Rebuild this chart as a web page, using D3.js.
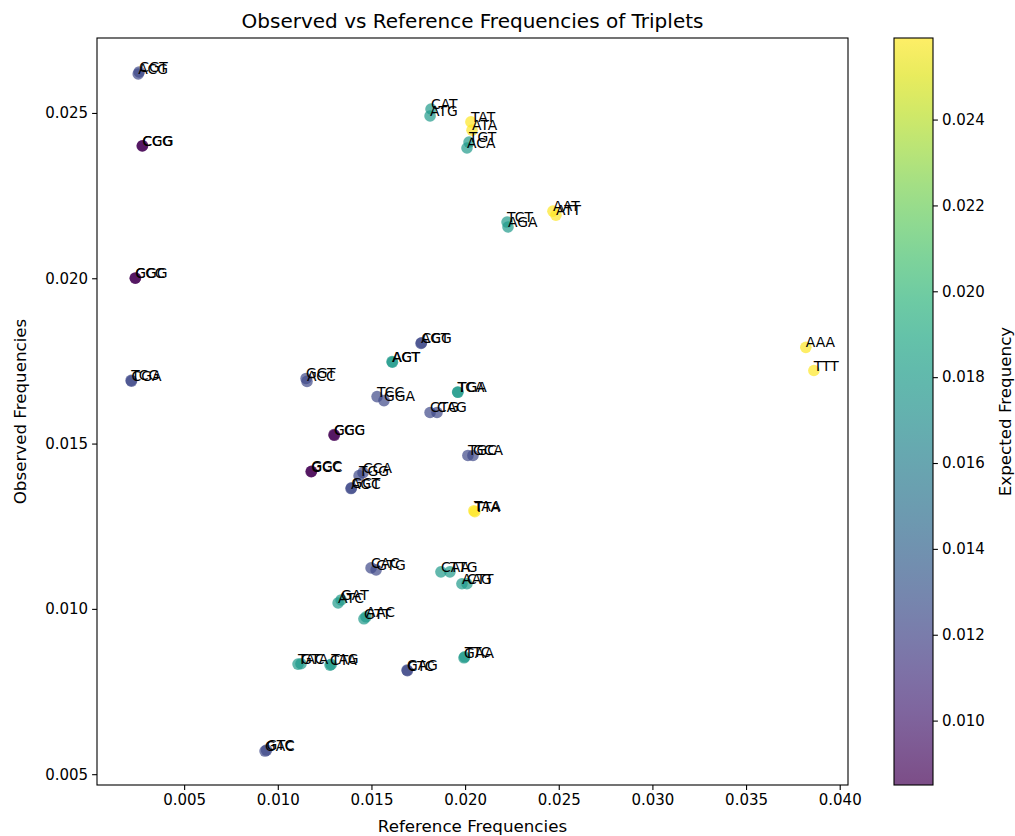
<!DOCTYPE html>
<html>
<head>
<meta charset="utf-8">
<script src="https://cdn.jsdelivr.net/npm/d3@7"></script>
<style>
  body { margin: 0; background: #fff; }
  text { font-family: "DejaVu Sans", sans-serif; }
</style>
</head>
<body>
<div class="canvas"></div>
<script>
/////////////////////////////////
//** DATA **//

const triplets = [
  'AAA','TTT','AAT','ATT','TAT','ATA','TAA','TTA',
  'CAT','ATG','TGT','ACA','TCT','AGA','AGT','ACT','TGA','TCA','CAA','TTG','AAG','CTT',
  'GAT','ATC','AAC','GTT','TAC','GTA','CTA','TAG','GAA','TTC',
  'CGT','ACG','TCG','CGA','AGG','CCT','GGT','ACC','TCC','GGA','CTG','CAG',
  'TGC','GCA','TGG','CCA','AGC','GCT','CAC','GTG','GAG','CTC','GAC','GTC',
  'CGG','CCG','GGG','CCC','GCG','CGC','GGC','GCC'
];

const refFreq = [
  0.03819, 0.03862, 0.02469, 0.02485, 0.02031, 0.02037, 0.02047, 0.02052,
  0.01818, 0.01813, 0.02021, 0.02010, 0.02224, 0.02229, 0.01610, 0.01612, 0.01962, 0.01960, 0.01871, 0.01919, 0.01983, 0.02010,
  0.01338, 0.01322, 0.01471, 0.01460, 0.01108, 0.01124, 0.01279, 0.01285, 0.01994, 0.01998,
  0.00260, 0.00255, 0.00217, 0.00219, 0.01765, 0.01767, 0.01151, 0.01156, 0.01530, 0.01567, 0.01813, 0.01850,
  0.02015, 0.02042, 0.01434, 0.01455, 0.01391, 0.01393, 0.01498, 0.01525, 0.01690, 0.01692, 0.00932, 0.00940,
  0.00276, 0.00278, 0.00239, 0.00240, 0.01300, 0.01302, 0.01178, 0.01180
];

const obsFreq = [
  0.01791, 0.01721, 0.02203, 0.02191, 0.02473, 0.02448, 0.01297, 0.01294,
  0.02512, 0.02491, 0.02412, 0.02394, 0.02170, 0.02155, 0.01748, 0.01746, 0.01655, 0.01656, 0.01112, 0.01112, 0.01076, 0.01076,
  0.01027, 0.01018, 0.00976, 0.00970, 0.00833, 0.00834, 0.00830, 0.00832, 0.00852, 0.00855,
  0.02624, 0.02618, 0.01691, 0.01689, 0.01803, 0.01805, 0.01697, 0.01688, 0.01642, 0.01630, 0.01594, 0.01594,
  0.01464, 0.01464, 0.01403, 0.01412, 0.01364, 0.01366, 0.01124, 0.01118, 0.00815, 0.00813, 0.00570, 0.00573,
  0.02400, 0.02401, 0.02000, 0.02001, 0.01527, 0.01525, 0.01415, 0.01416
];

const expFreq = [
  0.0259, 0.0259, 0.0259, 0.0259, 0.0259, 0.0259, 0.0259, 0.0259,
  0.0179, 0.0179, 0.0179, 0.0179, 0.0179, 0.0179, 0.0179, 0.0179, 0.0179, 0.0179, 0.0179, 0.0179, 0.0179, 0.0179,
  0.0179, 0.0179, 0.0179, 0.0179, 0.0179, 0.0179, 0.0179, 0.0179, 0.0179, 0.0179,
  0.0123, 0.0123, 0.0123, 0.0123, 0.0123, 0.0123, 0.0123, 0.0123, 0.0123, 0.0123, 0.0123, 0.0123,
  0.0123, 0.0123, 0.0123, 0.0123, 0.0123, 0.0123, 0.0123, 0.0123, 0.0123, 0.0123, 0.0123, 0.0123,
  0.0085, 0.0085, 0.0085, 0.0085, 0.0085, 0.0085, 0.0085, 0.0085
];

const xTicks = [0.005, 0.010, 0.015, 0.020, 0.025, 0.030, 0.035, 0.040];
const yTicks = [0.005, 0.010, 0.015, 0.020, 0.025];
const cTicks = [0.010, 0.012, 0.014, 0.016, 0.018, 0.020, 0.022, 0.024];

/////////////////////////////////
//** DIMENSIONS **//

const W = 1015, H = 836;
const plot = { left: 97, right: 848, top: 38, bottom: 785 };
const cbar = { left: 894, right: 933 };
const fs = { title: 20, label: 16.7, tick: 15, point: 13.9 };

const svg = d3.select('.canvas')
  .append('svg')
  .attr('width', W)
  .attr('height', H);

// matplotlib-like 5% margins around the data
const pad = (ext, f) => { const r = ext[1] - ext[0]; return [ext[0] - r * f, ext[1] + r * f]; };

const x = d3.scaleLinear()
  .domain(pad(d3.extent(refFreq), 0.05))
  .range([plot.left, plot.right]);

const y = d3.scaleLinear()
  .domain(pad(d3.extent(obsFreq), 0.05))
  .range([plot.bottom, plot.top]);

const colour = d3.scaleSequential(d3.interpolateViridis)
  .domain(d3.extent(expFreq));

const points = triplets.map((t, i) => ({ name: t, ref: refFreq[i], obs: obsFreq[i], exp: expFreq[i] }));

/////////////////////////////////
//** AXES **//

const xAxis = svg.append('g')
  .attr('transform', `translate(0, ${plot.bottom})`)
  .call(d3.axisBottom(x).tickValues(xTicks).tickFormat(d3.format('.3f')).tickSize(4.9).tickPadding(4))
xAxis.select('.domain').remove();

const yAxis = svg.append('g')
  .attr('transform', `translate(${plot.left}, 0)`)
  .call(d3.axisLeft(y).tickValues(yTicks).tickFormat(d3.format('.3f')).tickSize(4.9).tickPadding(4))
yAxis.select('.domain').remove();

svg.selectAll('.tick text').attr('font-size', fs.tick).attr('fill', '#000')
  .style('font-family', '"DejaVu Sans", sans-serif');
svg.selectAll('.tick line').attr('stroke', '#000').attr('stroke-width', 1.1);

// points
svg.append('g')
  .selectAll('circle')
  .data(points)
  .enter()
  .append('circle')
  .attr('cx', d => x(d.ref))
  .attr('cy', d => y(d.obs))
  .attr('r', 5.8)
  .attr('fill', d => colour(d.exp))
  .attr('fill-opacity', 0.7);

// labels
svg.append('g')
  .selectAll('text')
  .data(points)
  .enter()
  .append('text')
  .attr('x', d => x(d.ref))
  .attr('y', d => y(d.obs))
  .attr('font-size', fs.point)
  .attr('fill', '#000')
  .text(d => d.name);

// frame
svg.append('rect')
  .attr('x', plot.left)
  .attr('y', plot.top)
  .attr('width', plot.right - plot.left)
  .attr('height', plot.bottom - plot.top)
  .attr('fill', 'none')
  .attr('stroke', '#000')
  .attr('stroke-width', 1.1);

// titles
svg.append('text')
  .attr('x', (plot.left + plot.right) / 2)
  .attr('y', 28)
  .attr('text-anchor', 'middle')
  .attr('font-size', fs.title)
  .text('Observed vs Reference Frequencies of Triplets');

svg.append('text')
  .attr('x', (plot.left + plot.right) / 2)
  .attr('y', 832)
  .attr('text-anchor', 'middle')
  .attr('font-size', fs.label)
  .text('Reference Frequencies');

svg.append('text')
  .attr('transform', `translate(26, ${(plot.top + plot.bottom) / 2}) rotate(-90)`)
  .attr('text-anchor', 'middle')
  .attr('font-size', fs.label)
  .text('Observed Frequencies');

/////////////////////////////////
//** COLORBAR **//

const cy = d3.scaleLinear()
  .domain(colour.domain())
  .range([plot.bottom, plot.top]);

const grad = svg.append('defs').append('linearGradient')
  .attr('id', 'cgrad')
  .attr('x1', 0).attr('y1', 1).attr('x2', 0).attr('y2', 0);

d3.range(0, 1.0001, 0.05).forEach(t => {
  grad.append('stop')
    .attr('offset', t)
    .attr('stop-color', d3.interpolateViridis(t))
    .attr('stop-opacity', 0.7);
});

svg.append('rect')
  .attr('x', cbar.left)
  .attr('y', plot.top)
  .attr('width', cbar.right - cbar.left)
  .attr('height', plot.bottom - plot.top)
  .attr('fill', 'url(#cgrad)')
  .attr('stroke', '#000')
  .attr('stroke-width', 1.1);

const cAxis = svg.append('g')
  .attr('transform', `translate(${cbar.right}, 0)`)
  .call(d3.axisRight(cy).tickValues(cTicks).tickFormat(d3.format('.3f')).tickSize(4.9).tickPadding(4));
cAxis.select('.domain').remove();
cAxis.selectAll('.tick text').attr('font-size', fs.tick).attr('fill', '#000')
  .style('font-family', '"DejaVu Sans", sans-serif');
cAxis.selectAll('.tick line').attr('stroke', '#000').attr('stroke-width', 1.1);

svg.append('text')
  .attr('transform', `translate(1011, ${(plot.top + plot.bottom) / 2}) rotate(-90)`)
  .attr('text-anchor', 'middle')
  .attr('font-size', fs.label)
  .text('Expected Frequency');
</script>
</body>
</html>
